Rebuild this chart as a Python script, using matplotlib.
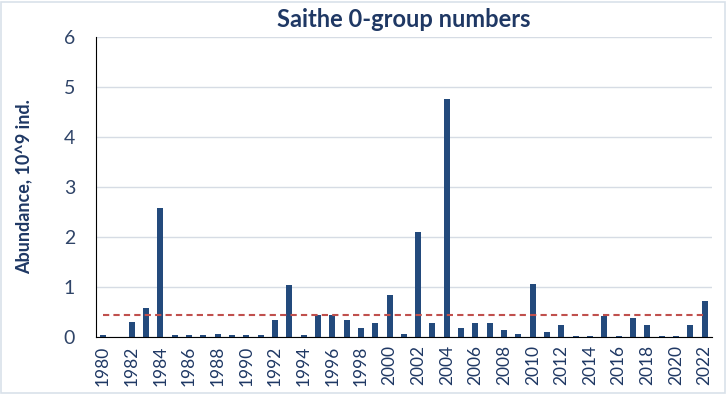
import numpy as np
import matplotlib
matplotlib.use('Agg')
import matplotlib.pyplot as plt
from matplotlib.patches import Rectangle

# data
years = list(range(1980, 2023))
abundance = [0.03, 0.0, 0.30, 0.57, 2.58, 0.03, 0.03, 0.03, 0.05, 0.03,
             0.03, 0.03, 0.33, 1.04, 0.03, 0.43, 0.43, 0.34, 0.18, 0.28,
             0.84, 0.05, 2.10, 0.28, 4.76, 0.18, 0.28, 0.28, 0.14, 0.06,
             1.06, 0.10, 0.23, 0.02, 0.02, 0.41, 0.02, 0.38, 0.24, 0.02,
             0.02, 0.24, 0.72]
mean_level = 0.44
yticks = [0, 1, 2, 3, 4, 5, 6]

navy = '#1F3864'
bar_col = '#234A7C'
plt.rcParams['font.family'] = ['Lato', 'DejaVu Sans']

fig = plt.figure(figsize=(7.27, 3.95), dpi=100)
ax = fig.add_axes([0.132, 0.147, 0.847, 0.759])

x = np.arange(len(years))
ax.bar(x, abundance, width=0.42, color=bar_col, zorder=3)
ax.plot(x, [mean_level] * len(years), color='#C0504D', linestyle=(0, (3, 2)),
        linewidth=1.5, zorder=4)

ax.set_xlim(-0.5, len(years) - 0.5)
ax.set_ylim(0, 6)
ax.set_yticks(yticks)
ax.set_yticklabels([str(t) for t in yticks], color='#2F4468', fontsize=14)
ax.set_xticks(x[::2])
ax.set_xticklabels([str(y) for y in years[::2]], rotation=90, color=navy, fontsize=12.5)
ax.tick_params(axis='y', length=0, pad=15)
ax.tick_params(axis='x', length=0, pad=6)
ax.grid(axis='y', color='#D6DCE4', linewidth=1, zorder=0)

for side in ['top', 'right']:
    ax.spines[side].set_visible(False)
ax.spines['left'].set_color('black')
ax.spines['bottom'].set_color('black')
ax.spines['bottom'].set_zorder(5)

ax.set_title('Saithe 0-group numbers', color=navy, fontsize=17, fontweight='bold', pad=7)
ax.set_ylabel('Abundance, 10^9 ind.', color=navy, fontsize=13, fontweight='bold', labelpad=22)

fig.patches.append(Rectangle((0.002, 0.004), 0.995, 0.992, transform=fig.transFigure,
                             fill=False, edgecolor='#D9E1EA', linewidth=1.2))

fig.savefig('out.png', dpi=100)
